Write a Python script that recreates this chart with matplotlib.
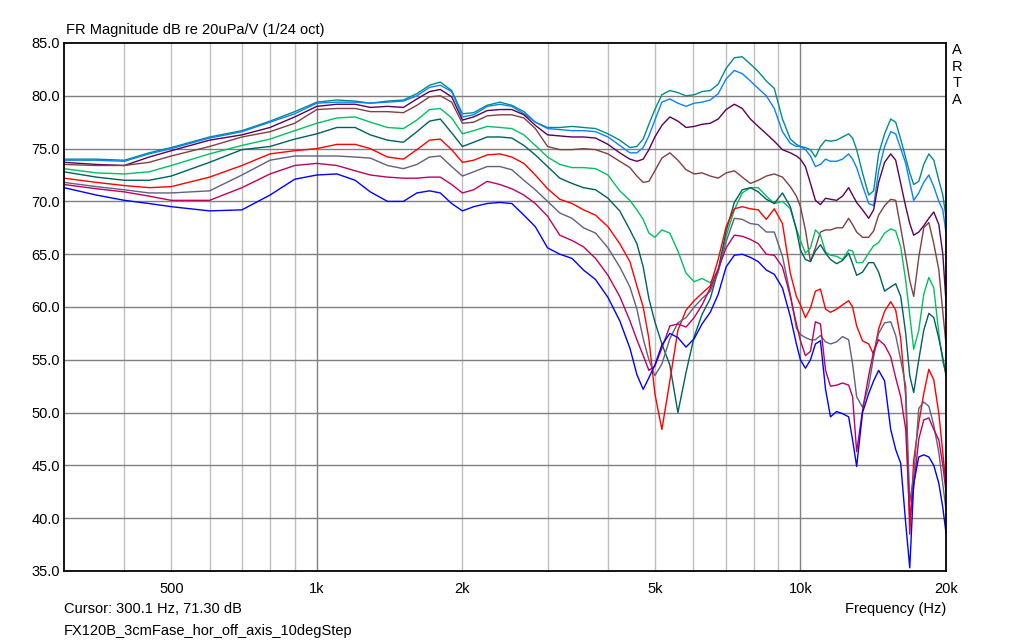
import matplotlib
matplotlib.use("Agg")
import matplotlib.pyplot as plt

plt.rcParams["font.family"] = ["Liberation Sans", "DejaVu Sans"]

# frequency grid (Hz) shared by all traces
freqs = [300, 350, 400, 450, 500, 600, 700, 800, 900, 1000,
         1100, 1200, 1290, 1400, 1510, 1610, 1710, 1800, 1900, 2000, 2110, 2250, 2390, 2530, 2680, 2830, 3000,
         3180, 3370, 3560, 3770, 4000, 4230, 4440, 4590, 4730, 4860, 5000, 5170, 5370, 5580, 5800, 6030,
         6260, 6510, 6760, 7020, 7300, 7580, 7880, 8180, 8500, 8830, 9180, 9530, 9810, 10000,
         10240, 10490, 10740, 11000, 11270, 11540, 11880, 12220, 12580, 12820, 13070, 13440, 13840, 14170,
         14510, 14930, 15370, 15740, 16120, 16510, 16830, 17150, 17570, 17990, 18430, 18870, 19330, 19700, 20000]

# magnitude (dB) per off-axis angle
deg0 = [74.0, 74.0, 73.9, 74.6, 75.1, 76.1, 76.7, 77.6, 78.5, 79.4,
        79.6, 79.5, 79.3, 79.5, 79.6, 80.2, 81.0, 81.3, 80.5, 78.3, 78.4, 79.1, 79.4, 79.1, 78.5, 77.5, 77.0,
        77.0, 77.1, 77.0, 76.9, 76.4, 75.8, 75.1, 75.2, 75.9, 77.3, 78.7, 80.1, 80.5, 80.3, 80.0, 80.1,
        80.4, 80.5, 81.1, 82.6, 83.6, 83.7, 83.0, 82.3, 81.4, 80.7, 77.8, 75.9, 75.4, 75.2,
        75.1, 74.9, 74.2, 75.2, 75.8, 75.7, 75.8, 76.1, 76.4, 76.0, 74.9, 72.7, 70.6, 71.0,
        74.5, 76.4, 77.8, 77.5, 75.9, 74.1, 72.7, 71.6, 71.9, 73.5, 74.5, 73.9, 72.0, 70.6, 68.5]
deg10 = [73.9, 73.9, 73.8, 74.5, 75.0, 76.0, 76.6, 77.5, 78.3, 79.3,
         79.4, 79.4, 79.3, 79.4, 79.5, 80.0, 80.8, 81.0, 80.4, 78.0, 78.2, 79.0, 79.2, 79.0, 78.3, 77.5, 76.9,
         76.8, 76.7, 76.7, 76.6, 76.1, 75.3, 74.6, 74.6, 75.1, 76.2, 77.7, 79.4, 79.7, 79.3, 79.0, 79.3,
         79.4, 79.6, 80.2, 81.6, 82.4, 82.1, 81.4, 80.7, 80.0, 78.8, 76.6, 75.5, 75.2, 75.2,
         74.9, 74.3, 73.3, 73.5, 74.0, 73.8, 73.8, 74.0, 74.5, 74.0, 73.2, 71.5, 69.8, 69.6,
         72.9, 75.2, 76.6, 76.4, 75.0, 73.6, 71.8, 70.1, 70.8, 71.8, 72.5, 71.4, 70.0, 69.2, 67.0]
deg20 = [73.7, 73.5, 73.4, 74.2, 74.8, 75.8, 76.3, 77.0, 78.0, 79.0,
         79.2, 79.2, 78.9, 79.0, 78.9, 79.7, 80.4, 80.6, 79.9, 77.7, 78.0, 78.6, 78.7, 78.7, 78.2, 77.2, 76.3,
         76.2, 76.1, 76.1, 76.0, 75.4, 74.6, 74.0, 73.8, 74.0, 74.9, 76.1, 77.2, 78.0, 77.6, 77.0, 77.1,
         77.3, 77.4, 77.8, 78.7, 79.2, 78.8, 77.8, 77.1, 76.4, 75.7, 74.9, 74.6, 74.3, 74.0,
         73.3, 71.7, 70.1, 69.7, 70.3, 70.2, 70.1, 70.5, 71.3, 70.6, 69.9, 69.2, 68.4, 69.2,
         71.8, 73.7, 74.5, 73.9, 71.7, 69.5, 67.9, 66.8, 67.1, 67.7, 68.4, 69.0, 67.8, 65.0, 60.5]
deg30 = [73.5, 73.4, 73.4, 73.7, 74.3, 75.2, 76.1, 76.6, 77.4, 78.7,
         78.8, 78.8, 78.5, 78.5, 78.4, 79.1, 79.9, 80.0, 79.4, 77.4, 77.5, 78.1, 78.2, 78.2, 77.9, 76.9, 75.2,
         74.9, 74.9, 75.0, 74.9, 74.5, 73.8, 73.2, 72.4, 71.8, 71.9, 72.9, 74.1, 74.6, 73.9, 73.0, 72.6,
         72.7, 72.4, 72.2, 72.7, 72.9, 72.3, 71.7, 72.0, 72.4, 72.6, 72.3, 71.4, 70.5, 69.5,
         67.3, 64.3, 65.6, 67.1, 67.3, 67.3, 67.5, 67.5, 68.4, 67.8, 67.1, 66.6, 66.6, 67.2,
         68.7, 69.6, 70.2, 70.1, 67.5, 64.8, 62.5, 61.0, 64.7, 67.5, 68.0, 66.0, 63.5, 59.5, 56.5]
deg40 = [73.1, 72.7, 72.6, 72.8, 73.4, 74.5, 75.3, 75.9, 76.7, 77.4,
         77.9, 78.0, 77.5, 77.0, 76.9, 77.7, 78.7, 78.8, 77.9, 76.4, 76.7, 77.1, 77.0, 76.9, 76.3, 75.3, 74.2,
         73.5, 73.2, 73.2, 73.1, 72.5, 71.0, 70.1, 69.2, 68.3, 67.0, 66.6, 67.3, 67.0, 65.3, 63.2, 62.4,
         62.7, 62.3, 63.5, 66.7, 69.2, 70.8, 71.3, 71.3, 70.5, 69.8, 70.0, 69.3, 67.4, 66.3,
         65.1, 65.6, 67.3, 66.8, 65.2, 64.9, 64.8, 64.5, 65.4, 65.3, 64.2, 64.2, 65.1, 65.8,
         66.1, 67.0, 67.4, 67.2, 65.7, 62.5, 59.2, 56.0, 57.8, 61.2, 62.8, 61.8, 57.5, 54.8, 53.7]
deg50 = [72.8, 72.3, 72.0, 72.0, 72.4, 73.7, 74.9, 75.2, 75.9, 76.4,
         77.0, 77.0, 76.3, 75.8, 75.6, 76.6, 77.6, 77.8, 76.5, 75.2, 75.6, 76.1, 76.1, 76.0, 75.3, 74.4, 73.3,
         72.2, 71.7, 71.3, 71.1, 70.3, 69.1, 67.3, 66.0, 63.8, 60.8, 58.6, 56.5, 54.5, 50.0, 53.8, 57.2,
         59.3, 60.8, 63.5, 67.2, 69.9, 71.1, 71.3, 70.9, 70.2, 69.8, 70.8, 69.5, 67.3, 65.4,
         64.5, 64.3, 65.3, 65.9, 65.1, 64.5, 64.1, 64.4, 65.1, 64.1, 63.0, 63.3, 64.2, 64.2,
         63.3, 61.5, 61.9, 62.2, 61.0, 57.5, 53.5, 51.9, 55.0, 57.8, 59.4, 59.0, 57.0, 55.2, 53.5]
deg60 = [72.2, 71.8, 71.5, 71.3, 71.4, 72.3, 73.4, 74.5, 74.8, 75.0,
         75.4, 75.4, 75.0, 74.2, 74.0, 74.9, 75.8, 75.9, 74.9, 73.7, 73.9, 74.4, 74.5, 74.2, 73.6, 72.5, 71.2,
         70.2, 69.8, 69.2, 68.7, 67.6, 66.0, 64.3, 62.0, 60.0, 57.0, 51.8, 48.4, 53.0, 57.8, 59.7, 60.6,
         61.3, 62.0, 64.5, 67.6, 69.3, 69.5, 69.3, 69.2, 68.3, 69.3, 67.9, 63.2, 61.0, 60.2,
         59.0, 59.9, 61.5, 61.7, 59.8, 59.5, 59.8, 60.2, 60.6, 60.0, 58.2, 56.8, 56.5, 55.5,
         57.9, 59.6, 60.5, 59.7, 57.0, 51.5, 38.5, 45.5, 49.0, 51.8, 54.1, 53.1, 49.9, 46.2, 43.0]
deg70 = [71.8, 71.4, 71.1, 70.8, 70.8, 71.0, 72.5, 73.9, 74.3, 74.3,
         74.3, 74.2, 74.1, 73.4, 73.1, 73.5, 74.2, 74.3, 73.3, 72.4, 72.8, 73.3, 73.3, 73.0, 72.0, 71.1, 70.0,
         68.9, 68.4, 67.5, 67.0, 65.6, 63.8, 61.9, 59.8, 57.0, 55.0, 53.5, 54.6, 57.0, 58.5, 59.0, 60.0,
         60.8, 61.5, 63.3, 66.2, 68.4, 68.3, 67.9, 67.8, 67.1, 67.1, 64.8, 61.2, 58.0, 57.4,
         57.1, 56.9, 56.9, 57.3, 56.7, 56.5, 56.7, 57.2, 56.9, 54.6, 51.5, 50.5, 52.5, 55.3,
         57.5, 58.5, 58.6, 57.3, 55.0, 52.5, 41.5, 44.0, 50.4, 51.0, 50.6, 48.8, 46.2, 43.2, 40.8]
deg80 = [71.6, 71.2, 70.9, 70.5, 70.1, 70.1, 71.3, 72.6, 73.4, 73.6,
         73.4, 72.9, 72.5, 72.3, 72.2, 72.2, 72.3, 72.3, 71.6, 70.8, 71.1, 71.9, 71.6, 71.2, 70.6, 69.8, 68.6,
         66.8, 66.3, 65.7, 64.6, 63.0, 61.0, 58.7, 56.9, 55.4, 54.0, 54.4, 56.1, 58.2, 58.4, 58.1, 59.0,
         60.2, 61.8, 63.6, 65.6, 66.8, 66.7, 66.4, 66.0, 65.0, 64.9, 63.8, 61.0, 58.4, 56.8,
         55.4, 55.8, 58.6, 58.4, 54.0, 52.5, 52.6, 52.8, 52.6, 51.5, 46.3, 50.2, 53.5, 55.8,
         56.9, 56.4, 55.3, 53.3, 51.5, 48.4, 40.0, 43.0, 47.5, 49.3, 49.5, 48.4, 47.4, 45.0, 42.5]
deg90 = [71.3, 70.6, 70.1, 69.8, 69.5, 69.1, 69.2, 70.6, 72.1, 72.5,
         72.6, 72.0, 70.9, 70.0, 70.0, 70.8, 71.0, 70.8, 69.8, 69.1, 69.5, 69.8, 69.9, 69.8, 68.7, 67.6, 65.6,
         65.0, 64.6, 63.5, 62.6, 60.9, 58.7, 56.1, 53.6, 52.2, 53.3, 54.5, 56.4, 57.5, 57.1, 56.2, 57.0,
         58.4, 59.5, 61.2, 63.8, 64.9, 65.0, 64.7, 64.3, 63.5, 63.1, 61.8, 59.1, 56.5, 55.0,
         54.2, 55.0, 56.5, 56.8, 52.2, 49.6, 50.1, 49.9, 49.6, 47.4, 44.9, 50.0, 51.8, 53.0,
         54.0, 53.0, 48.4, 46.5, 45.2, 39.5, 35.3, 43.3, 45.8, 46.0, 45.8, 45.0, 43.3, 41.0, 38.6]

traces = [deg0, deg10, deg20, deg30, deg40, deg50, deg60, deg70, deg80, deg90]
colors = ["#008b8b", "#0a82ff", "#5c005c", "#804040", "#00c060",
          "#006060", "#ff0000", "#606080", "#c00060", "#0000ff"]

xticks = [500, 1000, 2000, 5000, 10000, 20000]
xticklabels = ["500", "1k", "2k", "5k", "10k", "20k"]
yticks = [35, 40, 45, 50, 55, 60, 65, 70, 75, 80, 85]

fig = plt.figure(figsize=(10.1, 6.43), dpi=100)
ax = fig.add_axes([64 / 1010, 72 / 643, 882 / 1010, 528 / 643])

# log grid: light minor lines, darker decades
for f in [400, 500, 600, 700, 800, 900, 2000, 3000, 4000, 5000, 6000, 7000, 8000, 9000]:
    ax.axvline(f, color="#c0c0c0", lw=1, zorder=0)
for f in [1000, 10000]:
    ax.axvline(f, color="#808080", lw=1, zorder=0)
for v in yticks[1:-1]:
    ax.axhline(v, color="#808080", lw=1, zorder=0)

for db, c in zip(traces, colors):
    ax.plot(freqs, db, color=c, lw=1.0)

ax.set_xscale("log")
ax.set_xlim(300, 20000)
ax.set_ylim(35, 85)
ax.set_xticks(xticks)
ax.set_xticklabels(xticklabels)
ax.xaxis.set_minor_locator(matplotlib.ticker.NullLocator())
ax.set_yticks(yticks)
ax.set_yticklabels(["%.1f" % v for v in yticks])
ax.tick_params(axis="both", length=0, labelsize=10.5)
ax.tick_params(axis="x", pad=8)
ax.tick_params(axis="y", pad=3)
for s in ax.spines.values():
    s.set_color("black")
    s.set_linewidth(1.3)

fig.text(66 / 1010, 1 - 30 / 643, "FR Magnitude dB re 20uPa/V (1/24 oct)",
         fontsize=10.5, va="center", ha="left")
for i, ch in enumerate("ARTA"):
    fig.text(957 / 1010, 1 - (50 + 16.7 * i) / 643, ch, fontsize=10.5, ha="center", va="center")
fig.text(64 / 1010, 1 - 609 / 643, "Cursor: 300.1 Hz, 71.30 dB", fontsize=10.5, va="center")
fig.text(946 / 1010, 1 - 609 / 643, "Frequency (Hz)", fontsize=10.5, va="center", ha="right")
fig.text(64 / 1010, 1 - 631 / 643, "FX120B_3cmFase_hor_off_axis_10degStep", fontsize=10.5, va="center")

fig.savefig("out.png", dpi=100, facecolor="white")
